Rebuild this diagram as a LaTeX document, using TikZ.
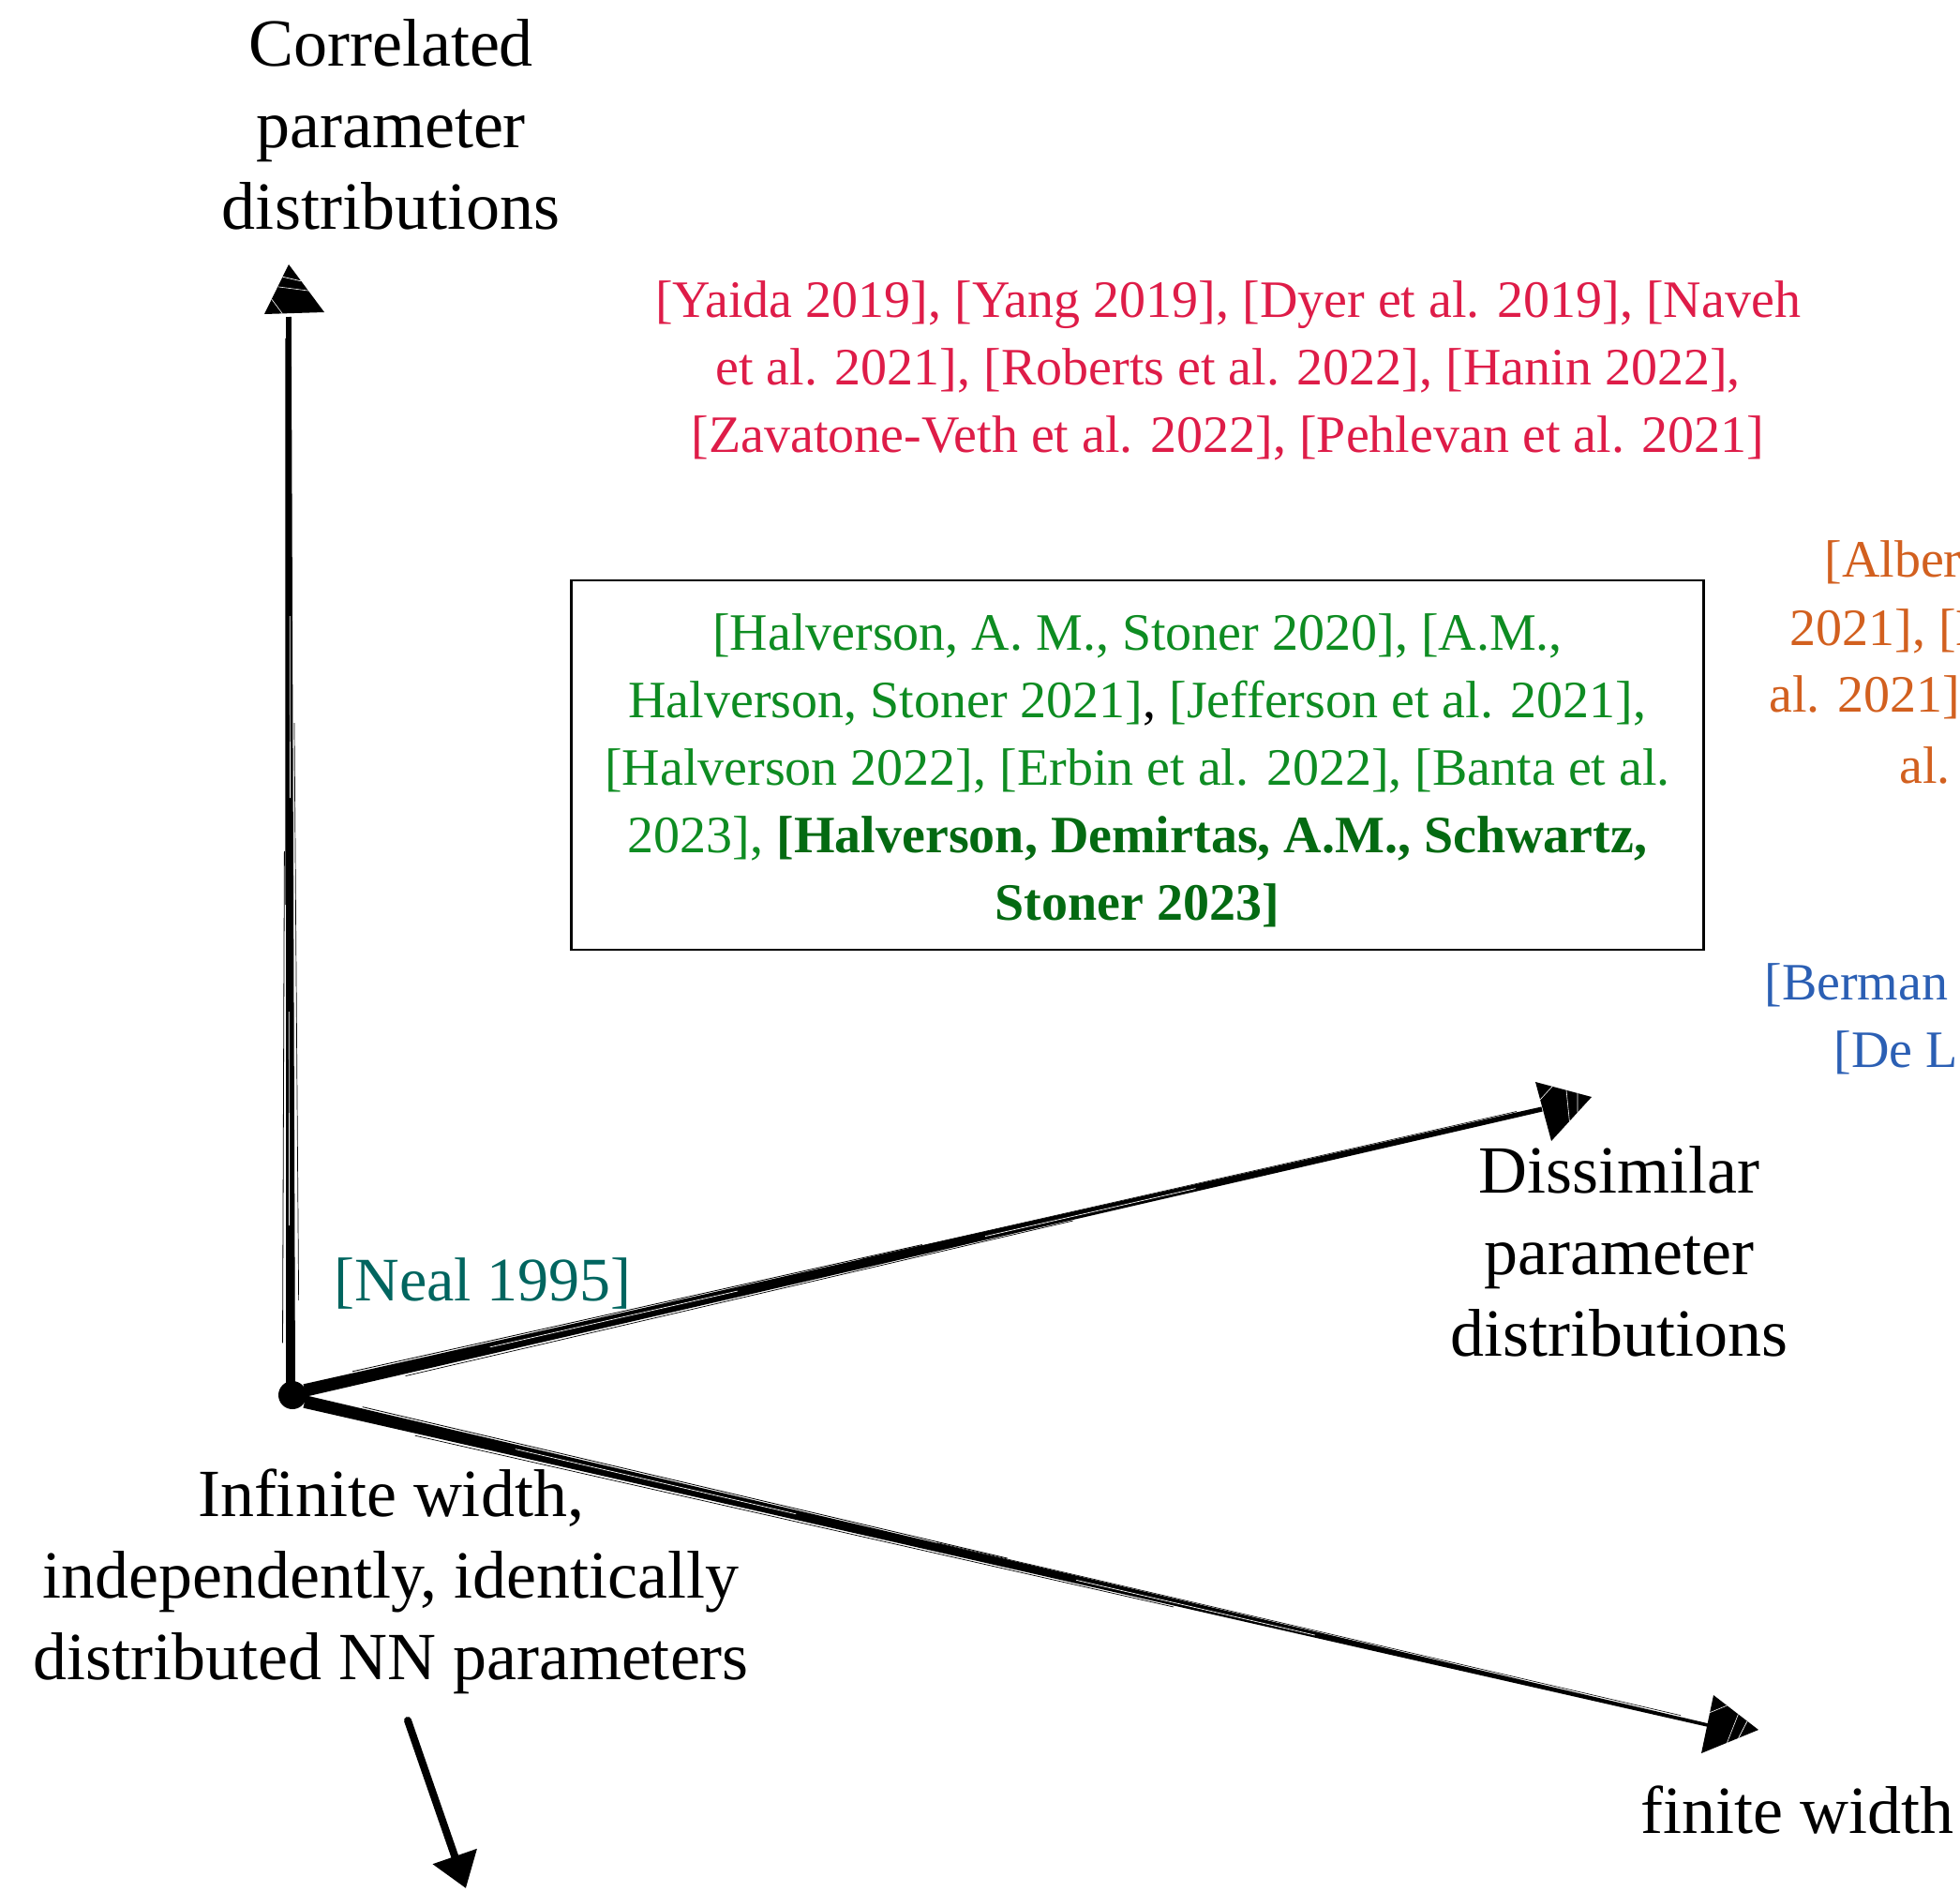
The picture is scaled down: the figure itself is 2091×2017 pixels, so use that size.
\documentclass[tikz,border=0pt]{standalone}
\usepackage{fontspec}
\setmainfont{Liberation Serif}
\usetikzlibrary{calc,arrows.meta}
\definecolor{refred}{HTML}{DE1C48}
\definecolor{refgreen}{HTML}{0E8C22}
\definecolor{refgbold}{HTML}{046A12}
\definecolor{refteal}{HTML}{00655F}
\definecolor{reforange}{HTML}{D2601F}
\definecolor{refblue}{HTML}{2B5FB4}
\newcommand{\brushstroke}[4]{%
  \fill[black] ($(#1)!#3!90:(#2)$) -- ($(#2)!#4!-90:(#1)$) -- ($(#2)!#4!90:(#1)$) -- ($(#1)!#3!-90:(#2)$) -- cycle;
  \draw[black,line width=0.4pt] ($($(#1)!0.04!(#2)$)!4.2pt!90:(#2)$) -- ($($(#1)!0.50!(#2)$)!2.8pt!90:(#2)$);
  \draw[black,line width=0.35pt] ($($(#1)!0.08!(#2)$)!4.4pt!-90:(#2)$) -- ($($(#1)!0.62!(#2)$)!2.6pt!-90:(#2)$);
  \draw[black,line width=0.3pt] ($($(#1)!0.45!(#2)$)!2.4pt!90:(#2)$) -- ($($(#1)!0.98!(#2)$)!1.8pt!90:(#2)$);
  \draw[white,line width=0.35pt] ($($(#1)!0.15!(#2)$)!0.6pt!90:(#2)$) -- ($($(#1)!0.35!(#2)$)!0.5pt!90:(#2)$);
  \draw[white,line width=0.35pt] ($($(#1)!0.55!(#2)$)!-0.3pt!90:(#2)$) -- ($($(#1)!0.72!(#2)$)!-0.3pt!90:(#2)$);
}
\newcommand{\headstreaks}[3]{%
  \draw[white,line width=0.35pt] ($(#1)!0.25!(#2)$) -- ($(#1)!0.35!(#3)$);
  \draw[white,line width=0.3pt] ($(#1)!0.45!(#2)$) -- ($(#1)!0.55!(#3)$);
  \draw[white,line width=0.3pt] ($(#2)!0.3!(#3)$) -- ($(#2)!0.3!(#1)$);
}
\begin{document}
\begin{tikzpicture}[x=0.5pt,y=-0.5pt,
  mainlabel/.style={align=center,font=\fontsize{36}{43.5}\selectfont,text=black,inner sep=0pt},
  citeblock/.style={align=center,font=\fontsize{28}{36}\selectfont,inner sep=0pt},
  citeline/.style={anchor=west,font=\fontsize{28}{36}\selectfont,inner sep=0pt},
  headfill/.style={fill=black},
  framebox/.style={draw=black,line width=1.3pt,minimum width=604pt,minimum height=197pt,inner sep=0pt}]
\useasboundingbox (0,0) rectangle (2091,2017);
\clip (0,0) rectangle (2091,2017);

% origin and axes
\coordinate (O) at (312,1488);
\coordinate (vs) at (310,1478);
\coordinate (ve) at (308,338);
\coordinate (vtip) at (308,282);
\coordinate (vbl) at (282,335);
\coordinate (vbr) at (346,333);
\coordinate (ds) at (325,1483);
\coordinate (de) at (1645,1183);
\coordinate (dtip) at (1698,1170);
\coordinate (dbl) at (1638,1154);
\coordinate (dbr) at (1655,1217);
\coordinate (fs) at (325,1495);
\coordinate (fe) at (1822,1840);
\coordinate (ftip) at (1876,1845);
\coordinate (fbl) at (1828,1808);
\coordinate (fbr) at (1815,1870);
\coordinate (bs) at (435,1835);
\coordinate (btip) at (497,2014);

\brushstroke{vs}{ve}{2.5pt}{1.4pt}
\brushstroke{ds}{de}{3.4pt}{1.3pt}
\brushstroke{fs}{fe}{3.4pt}{0.9pt}
\fill[headfill] (vtip) -- (vbl) -- (vbr) -- cycle;
\fill[headfill] (dtip) -- (dbl) -- (dbr) -- cycle;
\fill[headfill] (ftip) -- (fbl) -- (fbr) -- cycle;
\headstreaks{vtip}{vbl}{vbr}
\headstreaks{dtip}{dbl}{dbr}
\headstreaks{ftip}{fbl}{fbr}
\fill[black] (O) circle (7.5pt);
\draw[line width=4pt,line cap=round,-{Triangle[length=18pt,width=24pt]}] (bs) -- (btip);

% labels
\node[mainlabel] (corr) at (417,133) {Correlated\\parameter\\distributions};
\node[mainlabel] (dissim) at (1727,1335) {Dissimilar\\parameter\\distributions};
\node[mainlabel] (infw) at (417,1687) {Infinite width,\\independently, identically\\distributed NN parameters};
\node[mainlabel] (finw) at (1917,1930) {finite width};
\node[mainlabel,text=refteal,font=\fontsize{33}{40}\selectfont] (neal) at (515,1369) {[Neal 1995]};

\node[citeblock,text=refred] (redcites) at (1310,395) {[Yaida 2019], [Yang 2019], [Dyer et al. 2019], [Naveh\\{}et al. 2021], [Roberts et al. 2022], [Hanin 2022],\\{}[Zavatone-Veth et al. 2022], [Pehlevan et al. 2021]};

\node[framebox] (box) at (1213.5,816) {};
\node[citeblock,text=refgreen] (greencites) at (1213.5,822) {[Halverson, A. M., Stoner 2020], [A.M.,\\{}Halverson, Stoner 2021]{\color{black},} [Jefferson et al. 2021],\\{}[Halverson 2022], [Erbin et al. 2022], [Banta et al.\\{}2023], {\bfseries\color{refgbold}[Halverson, Demirtas, A.M., Schwartz,}\\{\bfseries\color{refgbold}Stoner 2023]}};

\node[citeline,text=reforange] (or1) at (1946,600) {[Alber};
\node[citeline,text=reforange] (or2) at (1909,673) {2021], [E};
\node[citeline,text=reforange] (or3) at (1887,744) {al. 2021],};
\node[citeline,text=reforange] (or4) at (2026,816) {al.};
\node[citeline,text=refblue] (bl1) at (1882,1051) {[Berman};
\node[citeline,text=refblue] (bl2) at (1956,1123) {[De L};
\end{tikzpicture}
\end{document}
